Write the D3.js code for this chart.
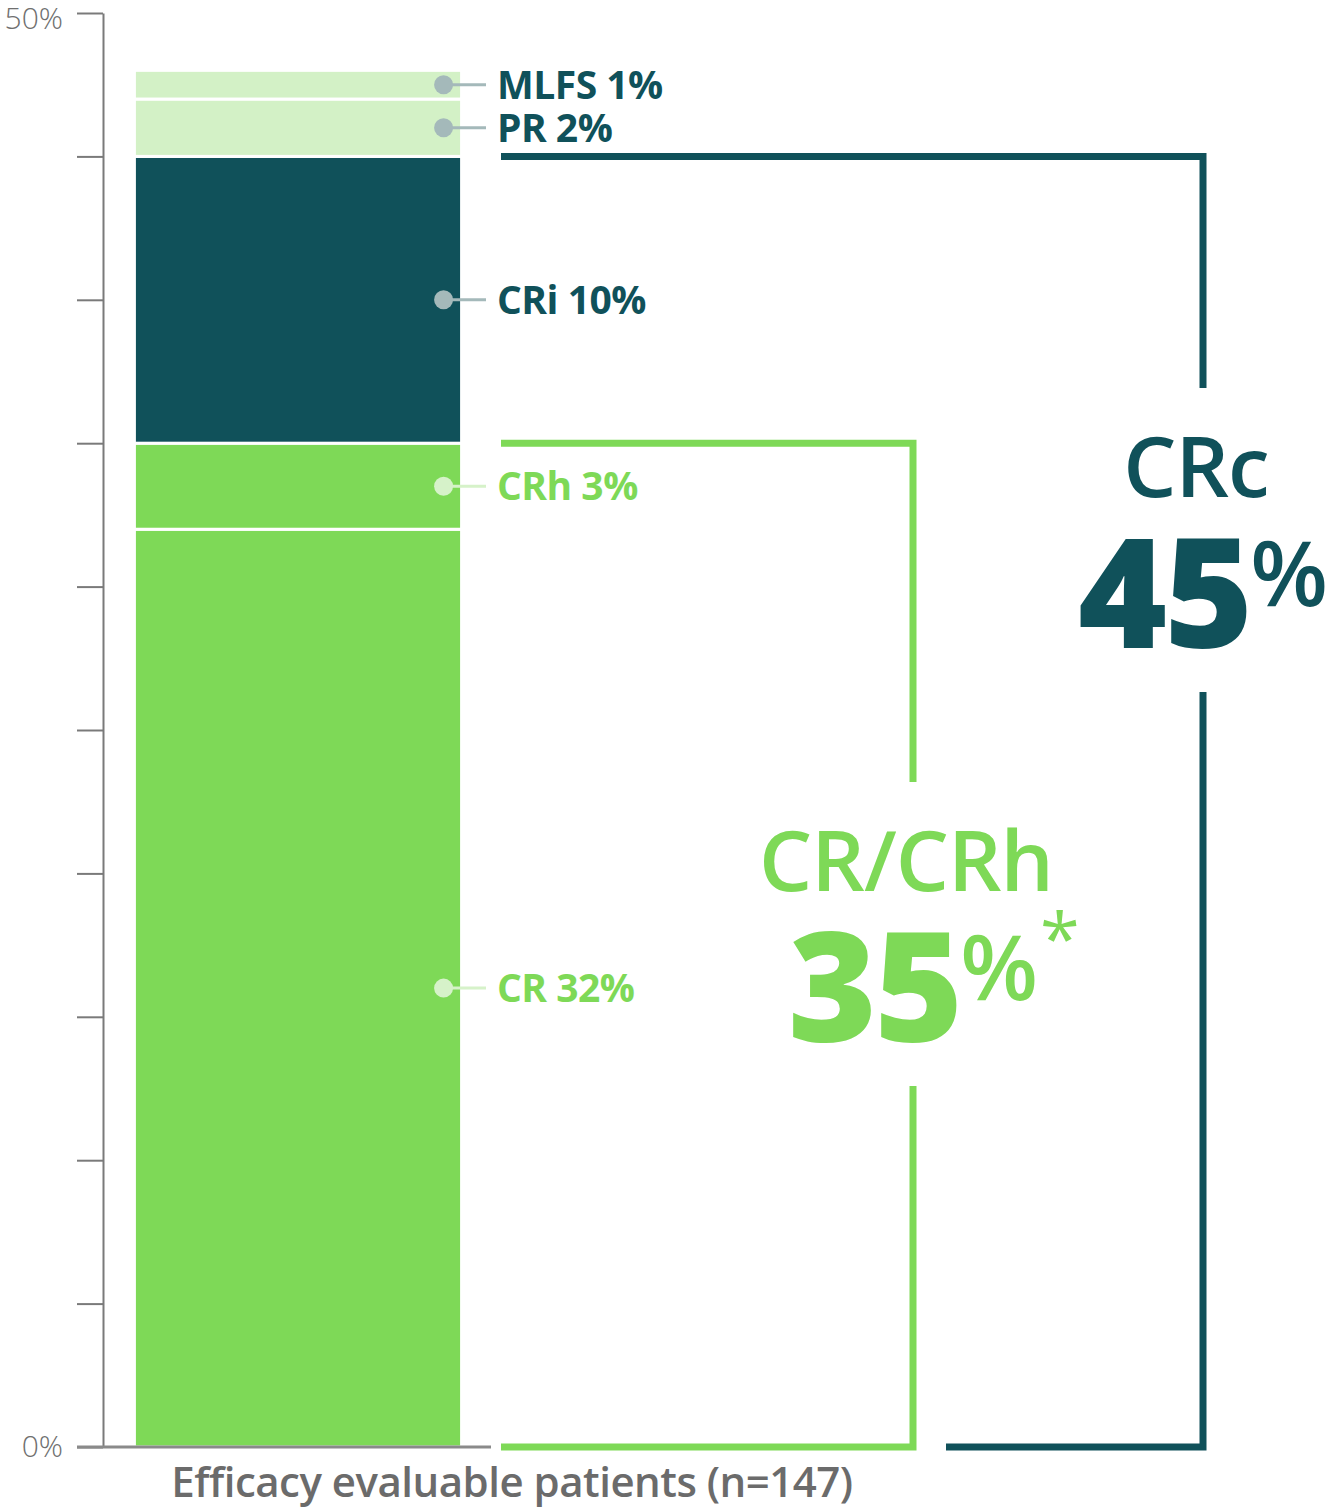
<!DOCTYPE html>
<html lang="en">
<head>
<meta charset="UTF-8">
<title>Response rates, efficacy evaluable patients</title>
<script src="https://cdn.jsdelivr.net/npm/d3@7"></script>
<style>
  html, body { margin: 0; padding: 0; background: #fff; }
  svg { display: block; font-family: "Open Sans", sans-serif; }
</style>
</head>
<body>
<svg id="chart" width="1327" height="1511"></svg>
<script>
// data, bottom to top of the stacked bar
var group = "Efficacy evaluable patients (n=147)";
var categories = ["CR", "CRh", "CRi", "PR", "MLFS"];
var values = [32, 3, 10, 2, 1];
var tickValues = [0, 5, 10, 15, 20, 25, 30, 35, 40, 45, 50];
var tickLabels = {0: "0%", 50: "50%"};
// the two summary brackets: which categories they add up
var crcKeys = ["CR", "CRh", "CRi"];
var crKeys = ["CR", "CRh"];

var teal = "#10515a", green = "#7ed957", pale = "#d3f1c6", grey = "#6b6b6b";
var fillOf = {CR: green, CRh: green, CRi: teal, PR: pale, MLFS: pale};
var dotOf = {CR: "#d6f2c9", CRh: "#d6f2c9", CRi: "#a4b9ba", PR: "#a4b9ba", MLFS: "#a4b9ba"};
var textOf = {CR: green, CRh: green, CRi: teal, PR: teal, MLFS: teal};

var svg = d3.select("#chart");

var y = d3.scaleLinear().domain([0, 50]).range([1447, 13]);
var x = d3.scaleBand().domain([group]).range([103, 493]).paddingOuter(0.096);

var row = {};
categories.forEach(function(k, i) { row[k] = values[i]; });
var series = d3.stack().keys(categories)([row]);

var total = function(keys) { return d3.sum(keys, function(k) { return row[k]; }); };

// y axis
var yAxis = d3.axisLeft(y)
  .tickValues(tickValues)
  .tickSize(26)
  .tickSizeOuter(0)
  .tickPadding(14)
  .tickFormat(function(d) { return tickLabels[d] || ""; });

var ax = svg.append("g").attr("transform", "translate(103,0)").call(yAxis);
ax.select(".domain").attr("stroke", "#7a7a7a").attr("stroke-width", 2);
ax.selectAll(".tick line").attr("stroke", "#7a7a7a").attr("stroke-width", 2);
ax.selectAll(".tick text")
  .attr("fill", "#6f6f6f")
  .style("font-family", "'Open Sans', sans-serif")
  .style("font-weight", 300)
  .style("font-size", "30px");
ax.selectAll(".tick").filter(function(d) { return d === 50; }).select("text").attr("dy", "0.5em");

// bar segments
svg.append("g").selectAll("rect")
  .data(series)
  .join("rect")
  .attr("x", x(group))
  .attr("width", x.bandwidth())
  .attr("y", function(s) { return y(s[0][1]); })
  .attr("height", function(s) { return y(s[0][0]) - y(s[0][1]); })
  .attr("fill", function(s) { return fillOf[s.key]; })
  .attr("stroke", "#fff")
  .attr("stroke-width", 3);

// baseline
svg.append("line")
  .attr("x1", 77).attr("x2", 491)
  .attr("y1", y(0)).attr("y2", y(0))
  .attr("stroke", "#8a8a8a").attr("stroke-width", 3);

// callouts
var dotX = x(group) + x.bandwidth() - 18;
var call = svg.append("g").selectAll("g")
  .data(series)
  .join("g")
  .attr("transform", function(s) { return "translate(0," + y((s[0][0] + s[0][1]) / 2) + ")"; });

call.append("line")
  .attr("x1", dotX).attr("x2", 486)
  .attr("stroke", function(s) { return dotOf[s.key]; })
  .attr("stroke-width", 3);
call.append("circle")
  .attr("cx", dotX).attr("r", 9.5)
  .attr("fill", function(s) { return dotOf[s.key]; });
call.append("text")
  .attr("x", 497)
  .attr("dy", "0.36em")
  .attr("fill", function(s) { return textOf[s.key]; })
  .style("font-weight", 700)
  .style("font-size", "39px")
  .style("letter-spacing", "-0.5px")
  .text(function(s) { return s.key + " " + row[s.key] + "%"; });

// brackets
function bracket(opts) {
  var g = svg.append("g");
  g.append("path")
    .attr("d", "M501," + y(opts.value) + "H" + opts.x + "V" + y(0) + "H" + opts.x0)
    .attr("fill", "none")
    .attr("stroke", opts.color)
    .attr("stroke-width", 7)
    .attr("stroke-linejoin", "miter");
  // white panel that breaks the vertical
  g.append("rect")
    .attr("x", opts.x - 50).attr("width", 100)
    .attr("y", opts.cy - 152).attr("height", 304)
    .attr("fill", "#fff");

  g.append("text")
    .attr("x", opts.x - 7).attr("y", opts.cy - 43)
    .attr("text-anchor", "middle")
    .attr("fill", opts.color)
    .style("font-weight", 600)
    .style("font-size", "84px")
    .style("letter-spacing", "-1px")
    .text(opts.label);

  var num = g.append("text")
    .attr("y", opts.cy + 108)
    .attr("fill", opts.color)
    .style("font-weight", 800)
    .style("font-size", "152px")
    .style("letter-spacing", "-3px")
    .text(opts.value);
  var pct = g.append("text")
    .attr("y", opts.cy + 66)
    .attr("fill", opts.color)
    .style("font-weight", 600)
    .style("font-size", "90px")
    .text("%");
  var nw = num.node().getComputedTextLength();
  var pw = pct.node().getComputedTextLength();
  var left = opts.x - (nw + pw) / 2;
  num.attr("x", left);
  pct.attr("x", left + nw);
  if (opts.star) {
    g.append("text")
      .attr("x", left + nw + pw + 2)
      .attr("y", opts.cy + 30)
      .attr("fill", opts.color)
      .style("font-weight", 400)
      .style("font-size", "72px")
      .text("*");
  }
}

bracket({value: total(crcKeys), x: 1203, x0: 946, cy: 540, color: teal, label: "CRc"});
bracket({value: total(crKeys), x: 913, x0: 501, cy: 934, color: green, label: "CR/CRh", star: true});

// category label under the bar
svg.append("text")
  .attr("x", 512).attr("y", 1497)
  .attr("text-anchor", "middle")
  .attr("fill", grey)
  .style("font-weight", 600)
  .style("font-size", "42px")
  .style("letter-spacing", "-0.5px")
  .text(group);
</script>
</body>
</html>
